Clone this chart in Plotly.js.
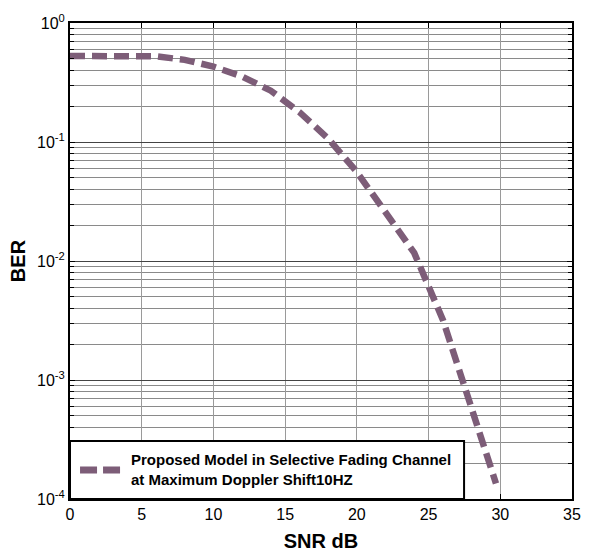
<!DOCTYPE html>
<html>
<head>
<meta charset="utf-8">
<script src="https://cdn.plot.ly/plotly-3.0.1.min.js"></script>
<style>html,body{margin:0;padding:0;background:#fff}#chart{width:590px;height:556px}</style>
</head>
<body>
<div id="chart"></div>
<script>
// Data
var snrDb = [0, 2, 4, 6, 8, 10, 12, 14, 16, 18, 20, 22, 24, 26, 28, 29.7];
var ber = [0.528, 0.528, 0.528, 0.525, 0.49, 0.43, 0.355, 0.27, 0.178, 0.107, 0.056, 0.026, 0.0117, 0.0032, 0.0006, 0.000135];
var seriesName = 'Proposed Model in Selective Fading Channel<br>at Maximum Doppler Shift10HZ';
var xTicks = [0, 5, 10, 15, 20, 25, 30, 35];
var yExponents = [-4, -3, -2, -1, 0];

var yTickVals = yExponents.map(function (e) { return Math.pow(10, e); });
var yTickText = yExponents.map(function (e) { return '10<sup>' + e + '</sup>'; });
var yMinorVals = [];
yExponents.forEach(function (e) {
  if (e < 0) { for (var m = 2; m <= 9; m++) yMinorVals.push(m * Math.pow(10, e)); }
});

var lineColor = 'rgb(125,93,120)';
var sans = '"Liberation Sans", Arial, sans-serif';

var trace = {
  x: snrDb, y: ber, type: 'scatter', mode: 'lines', name: seriesName,
  line: {color: lineColor, width: 6.5, dash: '15px,7px'},
  showlegend: false
};

var layout = {
  width: 590, height: 556,
  margin: {l: 70, r: 18, t: 23, b: 57},
  paper_bgcolor: '#fff', plot_bgcolor: '#fff',
  showlegend: false,
  xaxis: {
    range: [0, 35], tickmode: 'array', tickvals: xTicks,
    ticks: 'inside', ticklen: 5, tickcolor: '#000', tickwidth: 1,
    showline: true, linecolor: '#000', linewidth: 2, mirror: 'ticks',
    showgrid: true, gridcolor: '#9a9a9a', gridwidth: 1, zeroline: false,
    tickfont: {family: sans, size: 16, color: '#000'},
    title: {text: 'SNR dB', font: {family: sans, size: 20, color: '#000', weight: 700}, standoff: 12}
  },
  yaxis: {
    type: 'log', range: [-4, 0], tickmode: 'array', tickvals: yTickVals, ticktext: yTickText,
    ticks: 'inside', ticklen: 5, tickcolor: '#000', tickwidth: 1,
    showline: true, linecolor: '#000', linewidth: 2, mirror: 'ticks',
    showgrid: true, gridcolor: '#444', gridwidth: 1, zeroline: false,
    tickfont: {family: sans, size: 16, color: '#000'},
    minor: {tickmode: 'array', tickvals: yMinorVals, ticks: 'inside', ticklen: 4, tickcolor: '#000',
            showgrid: true, gridcolor: '#8a8a8a', gridwidth: 1},
    title: {text: 'BER', font: {family: sans, size: 20, color: '#000', weight: 700}, standoff: 6}
  },
  shapes: [
    {type: 'rect', xref: 'paper', yref: 'paper', x0: 0, x1: 0.785, y0: 0, y1: 0.1218,
     line: {color: '#000', width: 2}, fillcolor: '#fff', layer: 'above'},
    {type: 'line', xref: 'paper', yref: 'paper', x0: 0.02, x1: 0.1, y0: 0.061, y1: 0.061,
     line: {color: lineColor, width: 7, dash: '17px,6px'}, layer: 'above'}
  ],
  annotations: [
    {xref: 'paper', yref: 'paper', x: 0.118, y: 0.061, xanchor: 'left', yanchor: 'middle',
     align: 'left', showarrow: false, text: seriesName,
     font: {family: sans, size: 15, color: '#000', weight: 700}}
  ]
};

Plotly.newPlot('chart', [trace], layout, {displayModeBar: false, staticPlot: true});
</script>
</body>
</html>
